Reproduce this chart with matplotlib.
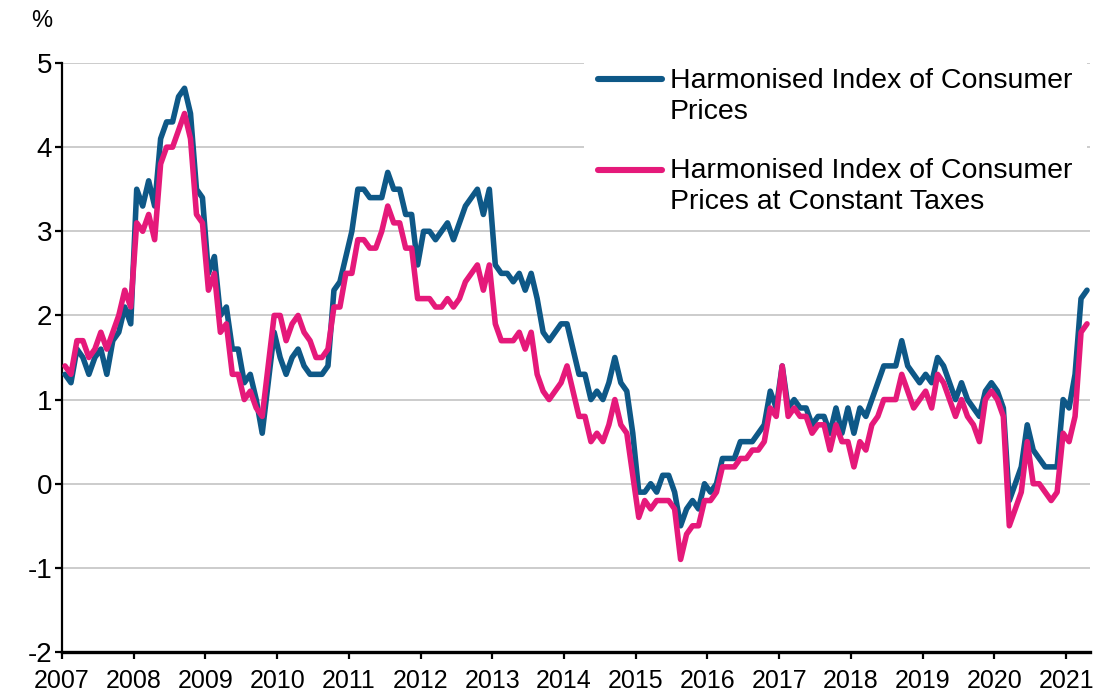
import numpy as np
import matplotlib
matplotlib.use("Agg")
import matplotlib.pyplot as plt
from matplotlib.patches import Rectangle

plt.rcParams['font.family'] = ['Liberation Sans', 'DejaVu Sans']
plt.rcParams['axes.unicode_minus'] = False

# Monthly annual rates, Jan 2007 - Apr 2021
years = list(range(2007, 2022))

hicp = [
    1.3, 1.2, 1.6, 1.5, 1.3, 1.5, 1.6, 1.3, 1.7, 1.8, 2.1, 1.9,   # 2007
    3.5, 3.3, 3.6, 3.3, 4.1, 4.3, 4.3, 4.6, 4.7, 4.4, 3.5, 3.4,   # 2008
    2.5, 2.7, 2.0, 2.1, 1.6, 1.6, 1.2, 1.3, 1.0, 0.6, 1.2, 1.8,   # 2009
    1.5, 1.3, 1.5, 1.6, 1.4, 1.3, 1.3, 1.3, 1.4, 2.3, 2.4, 2.7,   # 2010
    3.0, 3.5, 3.5, 3.4, 3.4, 3.4, 3.7, 3.5, 3.5, 3.2, 3.2, 2.6,   # 2011
    3.0, 3.0, 2.9, 3.0, 3.1, 2.9, 3.1, 3.3, 3.4, 3.5, 3.2, 3.5,   # 2012
    2.6, 2.5, 2.5, 2.4, 2.5, 2.3, 2.5, 2.2, 1.8, 1.7, 1.8, 1.9,   # 2013
    1.9, 1.6, 1.3, 1.3, 1.0, 1.1, 1.0, 1.2, 1.5, 1.2, 1.1, 0.6,   # 2014
    -0.1, -0.1, 0.0, -0.1, 0.1, 0.1, -0.1, -0.5, -0.3, -0.2, -0.3, 0.0,  # 2015
    -0.1, 0.0, 0.3, 0.3, 0.3, 0.5, 0.5, 0.5, 0.6, 0.7, 1.1, 0.9,  # 2016
    1.4, 0.9, 1.0, 0.9, 0.9, 0.7, 0.8, 0.8, 0.6, 0.9, 0.6, 0.9,   # 2017
    0.6, 0.9, 0.8, 1.0, 1.2, 1.4, 1.4, 1.4, 1.7, 1.4, 1.3, 1.2,   # 2018
    1.3, 1.2, 1.5, 1.4, 1.2, 1.0, 1.2, 1.0, 0.9, 0.8, 1.1, 1.2,   # 2019
    1.1, 0.9, -0.2, 0.0, 0.2, 0.7, 0.4, 0.3, 0.2, 0.2, 0.2, 1.0,  # 2020
    0.9, 1.3, 2.2, 2.3,                                           # 2021
]

hicp_ct = [
    1.4, 1.3, 1.7, 1.7, 1.5, 1.6, 1.8, 1.6, 1.8, 2.0, 2.3, 2.1,   # 2007
    3.1, 3.0, 3.2, 2.9, 3.8, 4.0, 4.0, 4.2, 4.4, 4.1, 3.2, 3.1,   # 2008
    2.3, 2.5, 1.8, 1.9, 1.3, 1.3, 1.0, 1.1, 0.9, 0.8, 1.4, 2.0,   # 2009
    2.0, 1.7, 1.9, 2.0, 1.8, 1.7, 1.5, 1.5, 1.6, 2.1, 2.1, 2.5,   # 2010
    2.5, 2.9, 2.9, 2.8, 2.8, 3.0, 3.3, 3.1, 3.1, 2.8, 2.8, 2.2,   # 2011
    2.2, 2.2, 2.1, 2.1, 2.2, 2.1, 2.2, 2.4, 2.5, 2.6, 2.3, 2.6,   # 2012
    1.9, 1.7, 1.7, 1.7, 1.8, 1.6, 1.8, 1.3, 1.1, 1.0, 1.1, 1.2,   # 2013
    1.4, 1.1, 0.8, 0.8, 0.5, 0.6, 0.5, 0.7, 1.0, 0.7, 0.6, 0.1,   # 2014
    -0.4, -0.2, -0.3, -0.2, -0.2, -0.2, -0.3, -0.9, -0.6, -0.5, -0.5, -0.2,  # 2015
    -0.2, -0.1, 0.2, 0.2, 0.2, 0.3, 0.3, 0.4, 0.4, 0.5, 0.9, 0.8,  # 2016
    1.4, 0.8, 0.9, 0.8, 0.8, 0.6, 0.7, 0.7, 0.4, 0.7, 0.5, 0.5,   # 2017
    0.2, 0.5, 0.4, 0.7, 0.8, 1.0, 1.0, 1.0, 1.3, 1.1, 0.9, 1.0,   # 2018
    1.1, 0.9, 1.3, 1.2, 1.0, 0.8, 1.0, 0.8, 0.7, 0.5, 1.0, 1.1,   # 2019
    1.0, 0.8, -0.5, -0.3, -0.1, 0.5, 0.0, 0.0, -0.1, -0.2, -0.1, 0.6,  # 2020
    0.5, 0.8, 1.8, 1.9,                                           # 2021
]

labels = ["Harmonised Index of Consumer\nPrices",
          "Harmonised Index of Consumer\nPrices at Constant Taxes"]
BLUE = '#0E5887'
PINK = '#E5197A'

# months since Jan 2007, points sit in the middle of each month
x = np.arange(len(hicp)) + 0.5

fig = plt.figure(figsize=(10.94, 6.96), dpi=100)
ax = fig.add_axes([62 / 1094, 44 / 696, 1028 / 1094, 589 / 696])

ax.plot(x, hicp, color=BLUE, lw=4.0, solid_joinstyle='round', solid_capstyle='round', zorder=3)
ax.plot(x, hicp_ct, color=PINK, lw=4.0, solid_joinstyle='round', solid_capstyle='round', zorder=3)

ax.set_xlim(0, len(hicp))
ax.set_ylim(-2, 5)
ax.set_xticks([12 * i for i in range(len(years))])
ax.set_xticklabels([str(y) for y in years])
ax.set_yticks(range(-2, 6))

ax.yaxis.grid(True, color='#c8c8c8', lw=1.3)
ax.set_axisbelow(True)
for s in ['top', 'right']:
    ax.spines[s].set_visible(False)
ax.spines['left'].set_linewidth(1.6)
ax.spines['bottom'].set_linewidth(2.4)
ax.tick_params(axis='both', direction='out', length=5, width=1.6, colors='black')
ax.tick_params(axis='y', pad=2, labelsize=20)
ax.tick_params(axis='x', pad=7, labelsize=18)

# legend drawn by hand so the line sits next to the first text row
ax.add_patch(Rectangle((0.508, 0.735), 0.489, 0.28, transform=ax.transAxes,
                       facecolor='white', edgecolor='none', zorder=4, clip_on=False))
for (yy, ty, col, lab) in [(0.973, 0.992, BLUE, labels[0]), (0.818, 0.838, PINK, labels[1])]:
    ax.plot([0.521, 0.584], [yy, yy], transform=ax.transAxes, color=col, lw=4.4,
            solid_capstyle='round', zorder=5, clip_on=False)
    ax.text(0.591, ty, lab, transform=ax.transAxes, fontsize=20.5, va='top',
            ha='left', linespacing=1.24, zorder=5)

fig.text(42 / 1094, 1 - 21 / 696, '%', fontsize=17, ha='center', va='center')

fig.savefig('out.png', dpi=100)
